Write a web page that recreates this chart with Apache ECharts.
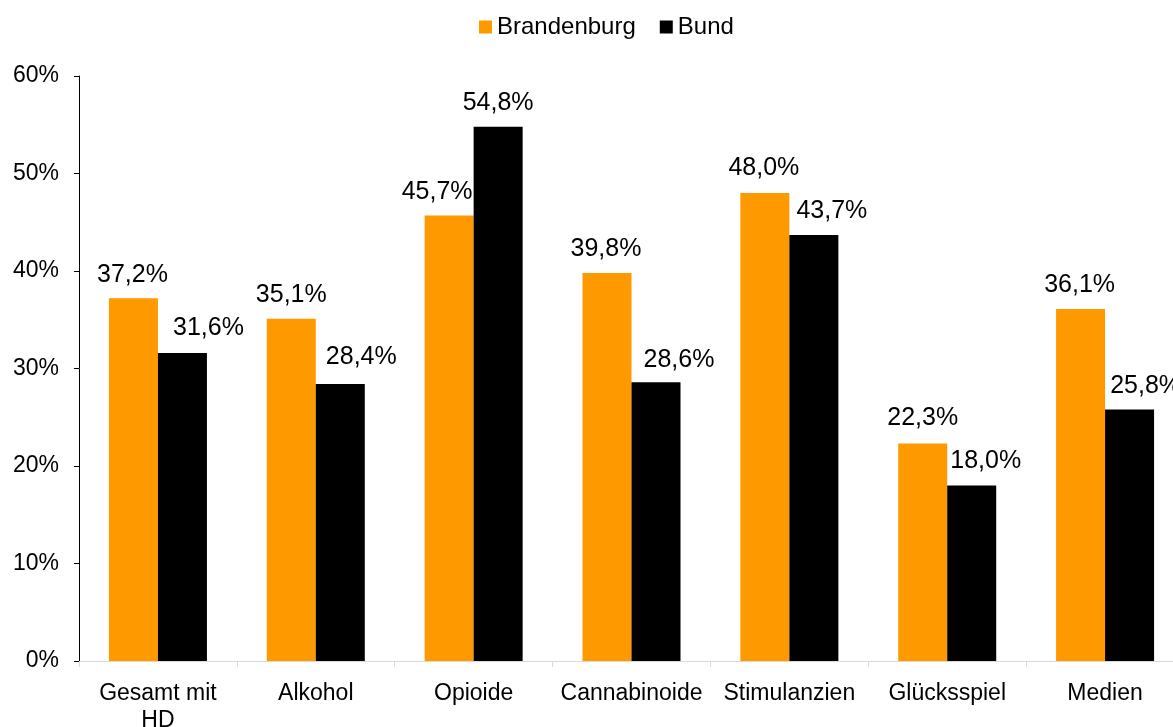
<!DOCTYPE html>
<html>
<head>
<meta charset="utf-8">
<script src="https://cdn.jsdelivr.net/npm/echarts@6/dist/echarts.min.js"></script>
<style>
html,body{margin:0;padding:0;background:#fff;}
#chart{width:1173px;height:727px;}
</style>
</head>
<body>
<div id="chart"></div>
<script>
const categories = ['Gesamt mit\nHD', 'Alkohol', 'Opioide', 'Cannabinoide', 'Stimulanzien', 'Glücksspiel', 'Medien'];
const seriesNames = ['Brandenburg', 'Bund'];
const brandenburg = [37.2, 35.1, 45.7, 39.8, 48.0, 22.3, 36.1];
const bund = [31.6, 28.4, 54.8, 28.6, 43.7, 18.0, 25.8];
const yTicks = [0, 10, 20, 30, 40, 50, 60];

// label placement tweaks (style only)
const brandLabelOffset = [[-1,0],[0,0],[-12,0],[-1,0],[-1,-1],[0,-2],[-1,0]];
const bundLabelOffset = [[26,-1],[21,-3],[0,0],[23,1],[18,0],[14,-1],[16,0]];

const FONT = '"Liberation Sans", Arial, sans-serif';
const fmt = v => v.toFixed(1).replace('.', ',') + '%';

function items(vals, offs) {
  return vals.map((v, i) => ({ value: v, label: { offset: offs[i] } }));
}

const chart = echarts.init(document.getElementById('chart'), null, { renderer: 'canvas' });
chart.setOption({
  animation: false,
  backgroundColor: '#fff',
  textStyle: { fontFamily: FONT, color: '#000' },
  legend: {
    left: 474,
    top: 10,
    itemWidth: 13,
    itemHeight: 13,
    itemGap: 24,
    icon: 'rect',
    textStyle: { fontFamily: FONT, fontSize: 24, color: '#000' },
    data: seriesNames
  },
  grid: { left: 79, width: 1105, top: 76, height: 585, containLabel: false, outerBoundsMode: 'none' },
  xAxis: {
    type: 'category',
    data: categories,
    axisLine: { lineStyle: { color: '#d9d9d9', width: 1 } },
    axisTick: { show: true, length: 6, lineStyle: { color: '#d9d9d9' } },
    axisLabel: { fontFamily: FONT, fontSize: 23, color: '#000', margin: 19, lineHeight: 27, interval: 0 }
  },
  yAxis: {
    type: 'value',
    min: yTicks[0],
    max: yTicks[yTicks.length - 1],
    interval: 10,
    splitLine: { show: false },
    axisLine: { show: true, lineStyle: { color: '#000', width: 1 } },
    axisTick: { show: true, inside: false, length: 5, lineStyle: { color: '#000' } },
    axisLabel: { fontFamily: FONT, fontSize: 23, color: '#000', margin: 20, formatter: '{value}%' }
  },
  series: [
    {
      name: seriesNames[0],
      type: 'bar',
      data: items(brandenburg, brandLabelOffset),
      barWidth: 49,
      barGap: '0%',
      itemStyle: { color: '#FF9900' },
      label: { show: true, position: 'top', distance: 11, fontFamily: FONT, fontSize: 25, color: '#000', formatter: p => fmt(p.value) }
    },
    {
      name: seriesNames[1],
      type: 'bar',
      data: items(bund, bundLabelOffset),
      barWidth: 49,
      barGap: '0%',
      itemStyle: { color: '#000000' },
      label: { show: true, position: 'top', distance: 11, fontFamily: FONT, fontSize: 25, color: '#000', formatter: p => fmt(p.value) }
    }
  ]
});
</script>
</body>
</html>
